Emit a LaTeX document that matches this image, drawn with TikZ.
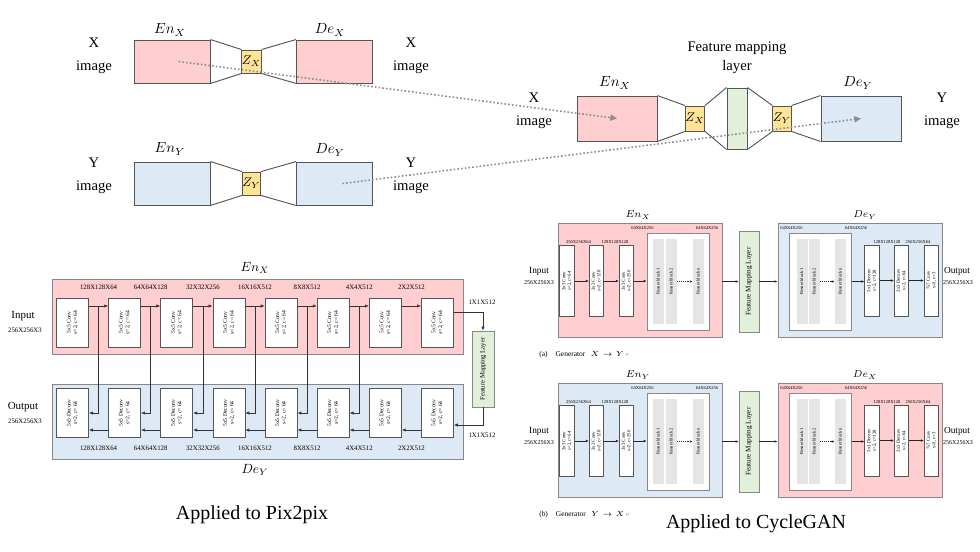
\documentclass[tikz,border=0pt]{standalone}
\usepackage{fix-cm}
\usepackage{fontspec}
\setmainfont{Liberation Serif}
\newfontfamily\symfont{DejaVu Sans}
\usepackage{tikz}
\usetikzlibrary{arrows.meta,positioning,calc}
\definecolor{edgegray}{RGB}{85,85,85}
\definecolor{panelgray}{RGB}{135,135,135}
\definecolor{xpink}{RGB}{255,206,208}
\definecolor{yblue}{RGB}{221,234,246}
\definecolor{zyellow}{RGB}{255,228,150}
\definecolor{fmgreen}{RGB}{226,239,217}
\definecolor{resgray}{RGB}{229,229,229}
\definecolor{dotgray}{RGB}{140,140,140}
% rotated two-line box text
\newcommand{\vlab}[1]{\rotatebox{90}{\begin{tabular}{@{}c@{}}#1\end{tabular}}}

\begin{document}
\begin{tikzpicture}[x=0.75pt,y=-0.75pt,
  edge/.style={draw=edgegray,line width=0.7pt},
  ae/.style={draw=edgegray,line width=0.7pt,minimum width=57pt,minimum height=32.25pt,inner sep=0pt},
  ae2/.style={ae,minimum width=60pt,minimum height=33.75pt},
  zb/.style={draw=edgegray,line width=0.7pt,fill=zyellow,minimum width=12.75pt,minimum height=17.25pt,inner sep=0pt,font=\fontsize{9.5}{11}\selectfont},
  zb2/.style={zb,minimum width=13.5pt,minimum height=18.75pt},
  fm2/.style={draw=edgegray,line width=0.7pt,fill=fmgreen,minimum width=15pt,minimum height=45.75pt,inner sep=0pt},
  img/.style={align=center,font=\fontsize{11}{13}\selectfont},
  ttl/.style={font=\fontsize{11}{13}\selectfont},
  dots/.style={draw=dotgray,line width=1.2pt,dash pattern=on 1.2pt off 1.6pt,-{Triangle[length=5pt,width=4.5pt]}},
  panel/.style={draw=panelgray,line width=0.6pt,minimum width=308.25pt,minimum height=56.25pt,inner sep=0pt},
  pbox/.style={draw=edgegray,line width=0.5pt,fill=white,minimum width=24pt,minimum height=37pt,inner sep=0pt,font=\fontsize{4.2}{5}\selectfont},
  pfm/.style={draw=panelgray,line width=0.5pt,fill=fmgreen,minimum width=16.5pt,minimum height=57pt,inner sep=0pt,font=\fontsize{5}{6}\selectfont},
  pdim/.style={font=\fontsize{5.1}{6}\selectfont,inner sep=0.5pt},
  pttl/.style={font=\fontsize{10}{12}\selectfont},
  io/.style={font=\fontsize{8.2}{9.8}\selectfont},
  arr/.style={draw=black!80,line width=0.45pt,-{Latex[length=3pt,width=2.4pt]}},
  cpanel/.style={draw=panelgray,line width=0.6pt,minimum width=123pt,minimum height=85.5pt,inner sep=0pt},
  cbox/.style={draw=edgegray,line width=0.5pt,fill=white,minimum width=10.9pt,minimum height=53.25pt,inner sep=0pt,font=\fontsize{3.6}{4.2}\selectfont},
  rpanel/.style={draw=panelgray,line width=0.5pt,fill=white,minimum width=46.5pt,minimum height=72.75pt,inner sep=0pt},
  rblk/.style={fill=resgray,minimum width=8.25pt,minimum height=63.75pt,inner sep=0pt,font=\fontsize{3.4}{4}\selectfont},
  cfm/.style={draw=panelgray,line width=0.5pt,fill=fmgreen,minimum width=15pt,minimum height=75.75pt,inner sep=0pt,font=\fontsize{5.4}{6.4}\selectfont},
  cdim/.style={font=\fontsize{3.4}{4}\selectfont,inner sep=0.5pt},
  cttl/.style={font=\fontsize{7.5}{9}\selectfont},
  cio/.style={font=\fontsize{7}{8.4}\selectfont},
  cios/.style={font=\fontsize{4.5}{5.4}\selectfont},
  captxt/.style={font=\fontsize{5.6}{6.7}\selectfont,inner sep=0pt},
  carr/.style={draw=black!85,line width=0.4pt,-{Latex[length=2.2pt,width=1.8pt]}},
  big/.style={font=\fontsize{15}{18}\selectfont}]
\useasboundingbox (0,0) rectangle (980,551);

% --- top left: the two autoencoders
\node[ae,fill=xpink] (xen) at (172,61.5) {};
\node[zb] (xz) at (251.5,61.5) {$Z_X$};
\node[ae,fill=xpink] (xde) at (334.5,61.5) {};
\node[ae,fill=yblue] (yen) at (172,183.5) {};
\node[zb] (yz) at (251.5,183.5) {$Z_Y$};
\node[ae,fill=yblue] (yde) at (334.5,183.5) {};
\foreach \p in {x,y} {
  \draw[edge] (\p en.north east) -- (\p z.north west) (\p en.south east) -- (\p z.south west)
    (\p z.north east) -- (\p de.north west) (\p z.south east) -- (\p de.south west);
}
\node[ttl] (txen) at (170,30) {$En_X$};
\node[ttl] (txde) at (330,30) {$De_X$};
\node[ttl] (tyen) at (170,149) {$En_Y$};
\node[ttl] (tyde) at (330,150) {$De_Y$};
\node[img] (xin) at (94,56) {X\\[4pt]image};
\node[img] (xout) at (411,56) {X\\[4pt]image};
\node[img] (yin) at (94,176) {Y\\[4pt]image};
\node[img] (yout) at (411,176) {Y\\[4pt]image};

% --- top right: with the feature mapping layer
\node[ae2,fill=xpink] (men) at (617,118.5) {};
\node[zb2] (mzx) at (695,118.5) {$Z_X$};
\node[fm2] (mfm) at (737,118.5) {};
\node[zb2] (mzy) at (782,118.5) {$Z_Y$};
\node[ae2,fill=yblue] (mde) at (861,118.5) {};
\draw[edge] (men.north east) -- (mzx.north west) (men.south east) -- (mzx.south west)
  (mzx.north east) -- (mfm.north west) (mzx.south east) -- (mfm.south west)
  (mfm.north east) -- (mzy.north west) (mfm.south east) -- (mzy.south west)
  (mzy.north east) -- (mde.north west) (mzy.south east) -- (mde.south west);
\node[ttl] (tmen) at (615,83) {$En_X$};
\node[ttl] (tmde) at (858,83) {$De_Y$};
\node[img] (tmfm) at (737,57.5) {Feature mapping\\[1pt]layer};
\node[img] (min) at (534,111) {X\\[4pt]image};
\node[img] (mout) at (942,111) {Y\\[4pt]image};
\draw[dots] ([xshift=5pt]xen.center) -- (men.center);
\draw[dots] ([xshift=6pt]yde.center) -- (mde.center);

% --- Pix2pix
\node[panel,fill=xpink] (penc) at (257.5,316.5) {};
\node[panel,fill=yblue] (pdec) at (257.5,421.5) {};
\node[pttl] (tpenc) at (255,268) {$En_X$};
\node[pttl] (tpdec) at (255,470) {$De_Y$};
\foreach \i in {1,...,8} {
  \node[pbox] (e\i) at ({72.5+52.14*(\i-1)},322.5) {\vlab{5x5 Conv\\s=2, c= 64}};
  \node[pbox] (d\i) at ({72.5+52.14*(\i-1)},413) {\vlab{5x5 Deconv\\s=2, c= 64}};
}
\foreach \i/\s in {1/128X128X64,2/64X64X128,3/32X32X256,4/16X16X512,5/8X8X512,6/4X4X512,7/2X2X512} {
  \node[pdim] (pu\i) at ({72.5+52.14*(\i-0.5)},287) {\s};
  \node[pdim] (pl\i) at ({72.5+52.14*(\i-0.5)},448) {\s};
}
\foreach \i/\j in {1/2,2/3,3/4,4/5,5/6,6/7,7/8} {
  \draw[arr] ([yshift=12.4pt]e\i.east) -- ([yshift=12.4pt]e\j.west);
  \draw[arr] ([yshift=-12.75pt]d\j.west) -- ([yshift=-12.75pt]d\i.east);
}
% skip connections
\foreach \i/\j in {1/2,2/3,3/4,4/5,5/6,6/7} {
  \coordinate (s\i) at ($([yshift=12.4pt]e\i.east)!0.5!([yshift=12.4pt]e\j.west)$);
  \draw[arr] (s\i) |- (d\i.east);
}
\node[pfm] (pfml) at (483,369) {\vlab{Feature Mapping Layer}};
\draw[arr] ([yshift=7.9pt]e8.east) -| (pfml.north);
\draw[arr] (pfml.south) |- ([yshift=-9pt]d8.east);
\node[pdim] (pz1) at (482,302) {1X1X512};
\node[pdim] (pz2) at (482,435) {1X1X512};
\node[io] (pin) at (23,316) {Input};
\node[pdim] (pins) at (25,330) {256X256X3};
\node[io] (pout) at (23,407) {Output};
\node[pdim] (pouts) at (25,421) {256X256X3};
\node[big] (app1) at (252,515) {Applied to Pix2pix};

% --- CycleGAN generators
\newcommand{\cyclegen}[8]{%
\begin{scope}[shift={(0,#2)}]
\node[cpanel,fill=#3] (#1enc) at (640,280) {};
\node[cpanel,fill=#4] (#1dec) at (860,280.5) {};
\node[cttl] (#1tenc) at (638,215) {$#5$};
\node[cttl] (#1tdec) at (865,215) {$#6$};
\node[cbox] (#1c1) at (567,281) {\vlab{3x3 Conv\\s=2, c=64}};
\node[cbox] (#1c2) at (596.5,281) {\vlab{3x3 Conv\\s=2, c=128}};
\node[cbox] (#1c3) at (626.5,281) {\vlab{3x3 Conv\\s=2, c=256}};
\node[rpanel] (#1ra) at (678,281.5) {};
\node[rblk] (#1ra1) at (658.5,281.5) {\vlab{Resnet block 1}};
\node[rblk] (#1ra2) at (671.5,281.5) {\vlab{Resnet block 2}};
\node[rblk] (#1ra3) at (698.5,281.5) {\vlab{Resnet block n}};
\node[cfm] (#1fm) at (749,281.5) {\vlab{Feature Mapping Layer}};
\node[rpanel] (#1rb) at (820.5,281.5) {};
\node[rblk] (#1rb1) at (802,281.5) {\vlab{Resnet block 1}};
\node[rblk] (#1rb2) at (814.5,281.5) {\vlab{Resnet block 2}};
\node[rblk] (#1rb3) at (840.5,281.5) {\vlab{Resnet block n}};
\node[cbox] (#1d1) at (872,280.5) {\vlab{3x3 Deconv\\s=2, c=128}};
\node[cbox] (#1d2) at (901.5,280.5) {\vlab{3x3 Deconv\\s=2, c=64}};
\node[cbox] (#1d3) at (931.5,280.5) {\vlab{7x7 Conv\\s=2, c=3}};
\draw[carr] (#1c1) -- (#1c2);
\draw[carr] (#1c2) -- (#1c3);
\draw[carr] (#1c3.east) -- (#1c3.east -| #1ra.west);
\draw[carr,densely dotted] (#1ra2) -- (#1ra3);
\draw[carr] (#1fm.west -| #1enc.east) -- (#1fm.west);
\draw[carr] (#1fm.east) -- (#1fm.east -| #1dec.west);
\draw[carr,densely dotted] (#1rb2) -- (#1rb3);
\draw[carr] (#1rb.east) -- (#1rb.east -| #1d1.west);
\draw[carr] (#1d1) -- (#1d2);
\draw[carr] (#1d2) -- (#1d3);
\node[cdim] (#1u1) at (578.5,242) {256X256X64};
\node[cdim] (#1u2) at (615,242) {128X128X128};
\node[cdim] (#1u3) at (642.5,228) {64X64X256};
\node[cdim] (#1u4) at (707,228) {64X64X256};
\node[cdim] (#1u5) at (791.5,228) {64X64X256};
\node[cdim] (#1u6) at (856,228) {64X64X256};
\node[cdim] (#1u7) at (887,242) {128X128X128};
\node[cdim] (#1u8) at (918,242) {256X256X64};
\node[cio] (#1in) at (539,271) {Input};
\node[cios] (#1ins) at (539,283) {256X256X3};
\node[cio] (#1out) at (957,271) {Output};
\node[cios] (#1outs) at (958,283) {256X256X3};
\node[captxt,anchor=west] (#1cap) at (539,355) {(#7)\hspace{6pt}Generator\hspace{4pt}$#8$\,{\symfont\fontsize{3.5}{4}\selectfont\color{gray}↵}};
\end{scope}}
\cyclegen{a}{0}{xpink}{yblue}{En_X}{De_Y}{a}{X\rightarrow Y}
\cyclegen{b}{160}{yblue}{xpink}{En_Y}{De_X}{b}{Y\rightarrow X}
\node[big] (app2) at (756,524) {Applied to CycleGAN};
\end{tikzpicture}
\end{document}
